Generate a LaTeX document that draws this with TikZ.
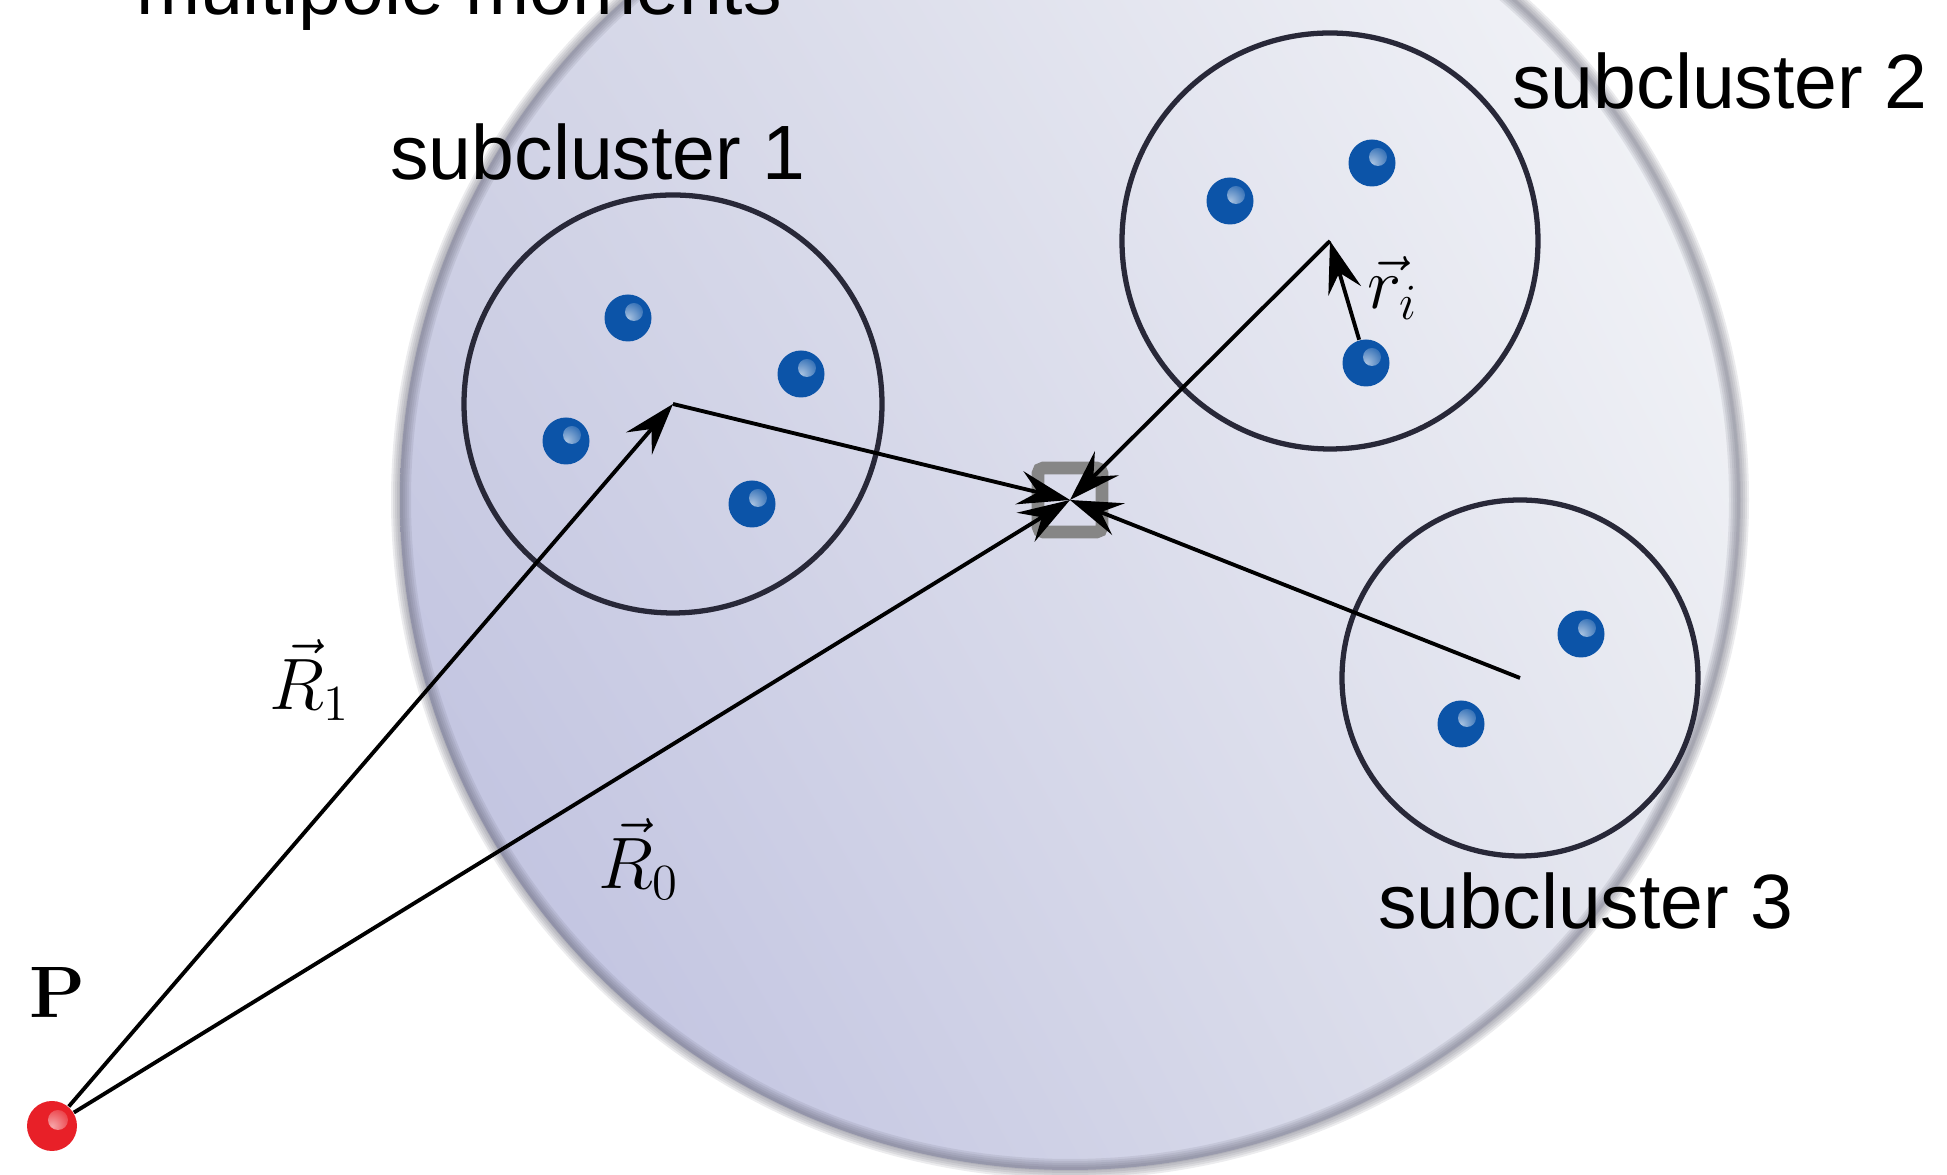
\documentclass[tikz,border=0pt]{standalone}
\usepackage[no-math]{fontspec}
\setmainfont{Liberation Sans}
\usetikzlibrary{arrows.meta, calc, shadings}
\definecolor{dotblue}{RGB}{12, 84, 168}
\definecolor{chargered}{RGB}{232, 32, 40}
\definecolor{ringgray}{RGB}{40, 40, 56}
\definecolor{edgegray}{RGB}{95, 95, 112}
\definecolor{fillul}{RGB}{212, 214, 230}
\definecolor{fillur}{RGB}{247, 248, 250}
\definecolor{fillll}{RGB}{186, 188, 222}
\definecolor{filllr}{RGB}{228, 230, 238}

\begin{document}
\begin{tikzpicture}[
    cluster/.style={circle, draw=ringgray, line width=1.5pt, inner sep=0pt},
    charge/.style={circle, fill=dotblue, minimum size=0.47cm, inner sep=0pt,
        path picture={\shade[inner color=white!65!dotblue, outer color=dotblue]
            ($(path picture bounding box.center)+(0.06,0.06)$) circle (0.09);}},
    probe/.style={circle, fill=chargered, minimum size=0.5cm, inner sep=0pt,
        path picture={\shade[inner color=white!60!chargered, outer color=chargered]
            ($(path picture bounding box.center)+(0.06,0.06)$) circle (0.1);}},
    origin/.style={rectangle, rounded corners=1.5pt, draw=gray!95, line width=3.6pt, minimum size=0.64cm, inner sep=0pt},
    arrow/.style={line width=1.1pt, -{Stealth[length=5.2mm, width=3.4mm, inset=1.9mm]}},
    tag/.style={font=\fontsize{21.9}{26}\selectfont, anchor=base},
    sym/.style={font=\fontsize{21}{25}\selectfont}
]
    \useasboundingbox (0,0) rectangle (19.47,11.75);

    % the whole cluster
    \coordinate (centre) at (10.70,6.75);
    \shade[upper left=fillul, upper right=fillur, lower left=fillll, lower right=filllr]
        (centre) circle (6.70);
    \foreach \w in {0.4,0.8,1.2,1.6,2.0}
        \draw[edgegray, line width=\w mm, opacity=0.12] (centre) circle (6.69);

    \node[tag] (title) at (4.59,11.60) {multipole moments};

    \node[origin] (o) at (centre) {};

    % subclusters
    \node[cluster, minimum size=4.18cm] (sc1) at (6.73,7.71) {};
    \node[cluster, minimum size=4.16cm] (sc2) at (13.30,9.34) {};
    \node[cluster, minimum size=3.56cm] (sc3) at (15.20,4.97) {};

    \node[tag] (lab1) at (5.98,9.95) {subcluster 1};
    \node[tag] (lab2) at (17.20,10.66) {subcluster 2};
    \node[tag] (lab3) at (15.86,2.46) {subcluster 3};

    % charges
    \node[charge] (d11) at (6.28,8.57) {};
    \node[charge] (d12) at (8.01,8.01) {};
    \node[charge] (d13) at (5.66,7.34) {};
    \node[charge] (d14) at (7.52,6.71) {};
    \node[charge] (d21) at (12.30,9.74) {};
    \node[charge] (d22) at (13.72,10.12) {};
    \node[charge] (d23) at (13.66,8.12) {};
    \node[charge] (d31) at (15.81,5.41) {};
    \node[charge] (d32) at (14.61,4.51) {};

    \node[probe] (p) at (0.52,0.49) {};
    \node[sym] (plab) at (0.58,1.82) {$\mathbf{P}$};

    % vectors
    \draw[arrow] (p) -- (sc1.center);
    \draw[arrow] (p) -- (o.center);
    \draw[arrow] (sc1.center) -- (o.center);
    \draw[arrow] (sc2.center) -- (o.center);
    \draw[arrow] (sc3.center) -- (o.center);
    \draw[arrow] (d23) -- (sc2.center);

    \node[sym] (r1) at (3.10,4.95) {$\vec{R}_1$};
    \node[sym] (r0) at (6.39,3.16) {$\vec{R}_0$};
    \node[sym] (ri) at (13.93,8.87) {$\vec{r}_i$};

\end{tikzpicture}
\end{document}
